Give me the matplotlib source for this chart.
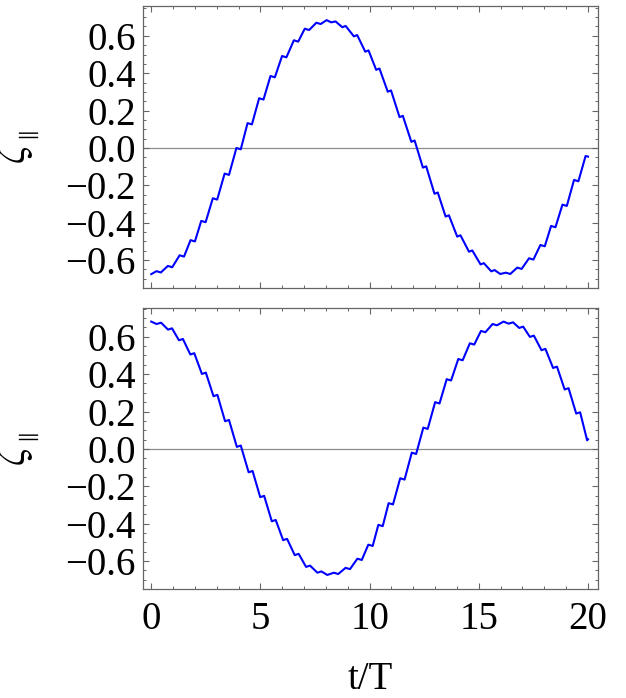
import numpy as np
import matplotlib
matplotlib.use('Agg')
import matplotlib.pyplot as plt
from matplotlib.ticker import MultipleLocator, FixedLocator

plt.rcParams['font.family'] = ['Liberation Serif', 'DejaVu Serif']
plt.rcParams['mathtext.fontset'] = 'stix'

label_fontsize = 28
line_color = '#0000ff'
frame_color = '0.4'

# top panel: wiggle maxima / minima
top_t = [0.00, 0.24, 0.44, 0.76, 0.96, 1.30, 1.50, 1.80, 2.00, 2.29, 2.49,
         2.82, 3.02, 3.36, 3.56, 3.90, 4.10, 4.41, 4.61, 4.94, 5.14, 5.46,
         5.66, 5.99, 6.19, 6.53, 6.73, 7.03, 7.23, 7.56, 7.76, 8.03, 8.24,
         8.44, 8.75, 8.90, 9.28, 9.43, 9.80, 9.95, 10.30, 10.45, 10.83,
         10.98, 11.37, 11.52, 11.91, 12.06, 12.44, 12.59, 12.97, 13.12,
         13.48, 13.63, 14.01, 14.16, 14.55, 14.70, 15.08, 15.23, 15.57,
         15.72, 15.98, 16.24, 16.44, 16.76, 16.96, 17.30, 17.50, 17.82,
         18.02, 18.31, 18.51, 18.83, 19.03, 19.36, 19.56, 19.89, 20.00]
top_y = [-0.675, -0.659, -0.666, -0.631, -0.638, -0.574, -0.581, -0.493,
         -0.500, -0.390, -0.397, -0.269, -0.276, -0.137, -0.144, 0.000,
         -0.007, 0.133, 0.126, 0.266, 0.259, 0.385, 0.378, 0.492, 0.485,
         0.576, 0.569, 0.638, 0.631, 0.670, 0.663, 0.684, 0.672, 0.677,
         0.646, 0.653, 0.597, 0.604, 0.515, 0.522, 0.418, 0.425, 0.301,
         0.308, 0.165, 0.172, 0.033, 0.040, -0.105, -0.098, -0.245, -0.238,
         -0.367, -0.360, -0.474, -0.467, -0.555, -0.548, -0.623, -0.616,
         -0.660, -0.653, -0.674, -0.667, -0.674, -0.640, -0.647, -0.590,
         -0.597, -0.519, -0.526, -0.417, -0.424, -0.303, -0.310, -0.171,
         -0.178, -0.043, -0.046]

# bottom panel
bot_t = [0.00, 0.24, 0.45, 0.77, 0.95, 1.27, 1.45, 1.79, 1.97, 2.32, 2.50,
         2.85, 3.03, 3.38, 3.56, 3.92, 4.10, 4.46, 4.64, 4.99, 5.17, 5.52,
         5.70, 6.04, 6.22, 6.57, 6.75, 7.09, 7.27, 7.61, 7.79, 8.06, 8.36,
         8.56, 8.90, 9.10, 9.44, 9.64, 9.94, 10.14, 10.40, 10.60, 10.87,
         11.07, 11.40, 11.60, 11.93, 12.13, 12.46, 12.66, 13.00, 13.20,
         13.53, 13.73, 14.06, 14.26, 14.59, 14.79, 15.10, 15.30, 15.63,
         15.83, 16.13, 16.36, 16.57, 16.85, 17.03, 17.34, 17.52, 17.87,
         18.05, 18.40, 18.58, 18.93, 19.11, 19.46, 19.64, 19.96, 20.00]
bot_y = [0.681, 0.668, 0.675, 0.638, 0.645, 0.581, 0.588, 0.505, 0.512,
         0.401, 0.408, 0.282, 0.289, 0.148, 0.155, 0.011, 0.018, -0.125,
         -0.118, -0.258, -0.251, -0.387, -0.380, -0.488, -0.481, -0.568,
         -0.561, -0.631, -0.624, -0.662, -0.655, -0.674, -0.662, -0.669,
         -0.636, -0.643, -0.587, -0.594, -0.512, -0.519, -0.406, -0.413,
         -0.290, -0.297, -0.157, -0.164, -0.020, -0.027, 0.114, 0.107,
         0.250, 0.243, 0.373, 0.366, 0.481, 0.474, 0.565, 0.558, 0.631,
         0.624, 0.668, 0.661, 0.681, 0.670, 0.677, 0.647, 0.654, 0.599,
         0.606, 0.528, 0.535, 0.433, 0.440, 0.318, 0.325, 0.189, 0.196,
         0.046, 0.052]

x_ticks = [0, 5, 10, 15, 20]
y_ticks = [-0.6, -0.4, -0.2, 0.0, 0.2, 0.4, 0.6]
y_ticklabels = ['\u22120.6', '\u22120.4', '\u22120.2', '0.0', '0.2', '0.4', '0.6']

fig = plt.figure(figsize=(6.26, 6.98), dpi=100)
ax_top = fig.add_axes([0.228, 0.5874, 0.727, 0.4044])
ax_bot = fig.add_axes([0.228, 0.1562, 0.727, 0.4021])

for ax, t, y, ylim in [(ax_top, top_t, top_y, (-0.749, 0.761)),
                       (ax_bot, bot_t, bot_y, (-0.749, 0.752))]:
    ax.axhline(0, color='0.55', lw=0.9, zorder=1)
    ax.plot(t, y, color=line_color, lw=1.5, zorder=2)
    ax.set_xlim(-0.39, 20.45)
    ax.set_ylim(*ylim)

    ax.xaxis.set_major_locator(FixedLocator(x_ticks))
    ax.xaxis.set_minor_locator(MultipleLocator(1))
    ax.yaxis.set_major_locator(FixedLocator(y_ticks))
    ax.yaxis.set_minor_locator(MultipleLocator(0.05))
    ax.set_yticklabels(y_ticklabels)

    ax.tick_params(which='both', direction='in', top=True, right=True,
                   color=frame_color, labelsize=label_fontsize)
    ax.tick_params(which='major', length=4.0, width=0.8, pad=5)
    ax.tick_params(which='minor', length=2.2, width=0.7)
    for sp in ax.spines.values():
        sp.set_color(frame_color)
        sp.set_linewidth(0.9)

    ax.set_ylabel(r'$\zeta_{{}_{\parallel}}$', fontsize=32)
    ax.yaxis.set_label_coords(-0.222, 0.5)

ax_top.tick_params(labelbottom=False)
ax_bot.tick_params(axis='x', which='major', pad=9)
ax_bot.set_xticklabels([str(v) for v in x_ticks])
ax_bot.set_xlabel('t/T', fontsize=label_fontsize, labelpad=16)

fig.savefig('out.png', dpi=100)
